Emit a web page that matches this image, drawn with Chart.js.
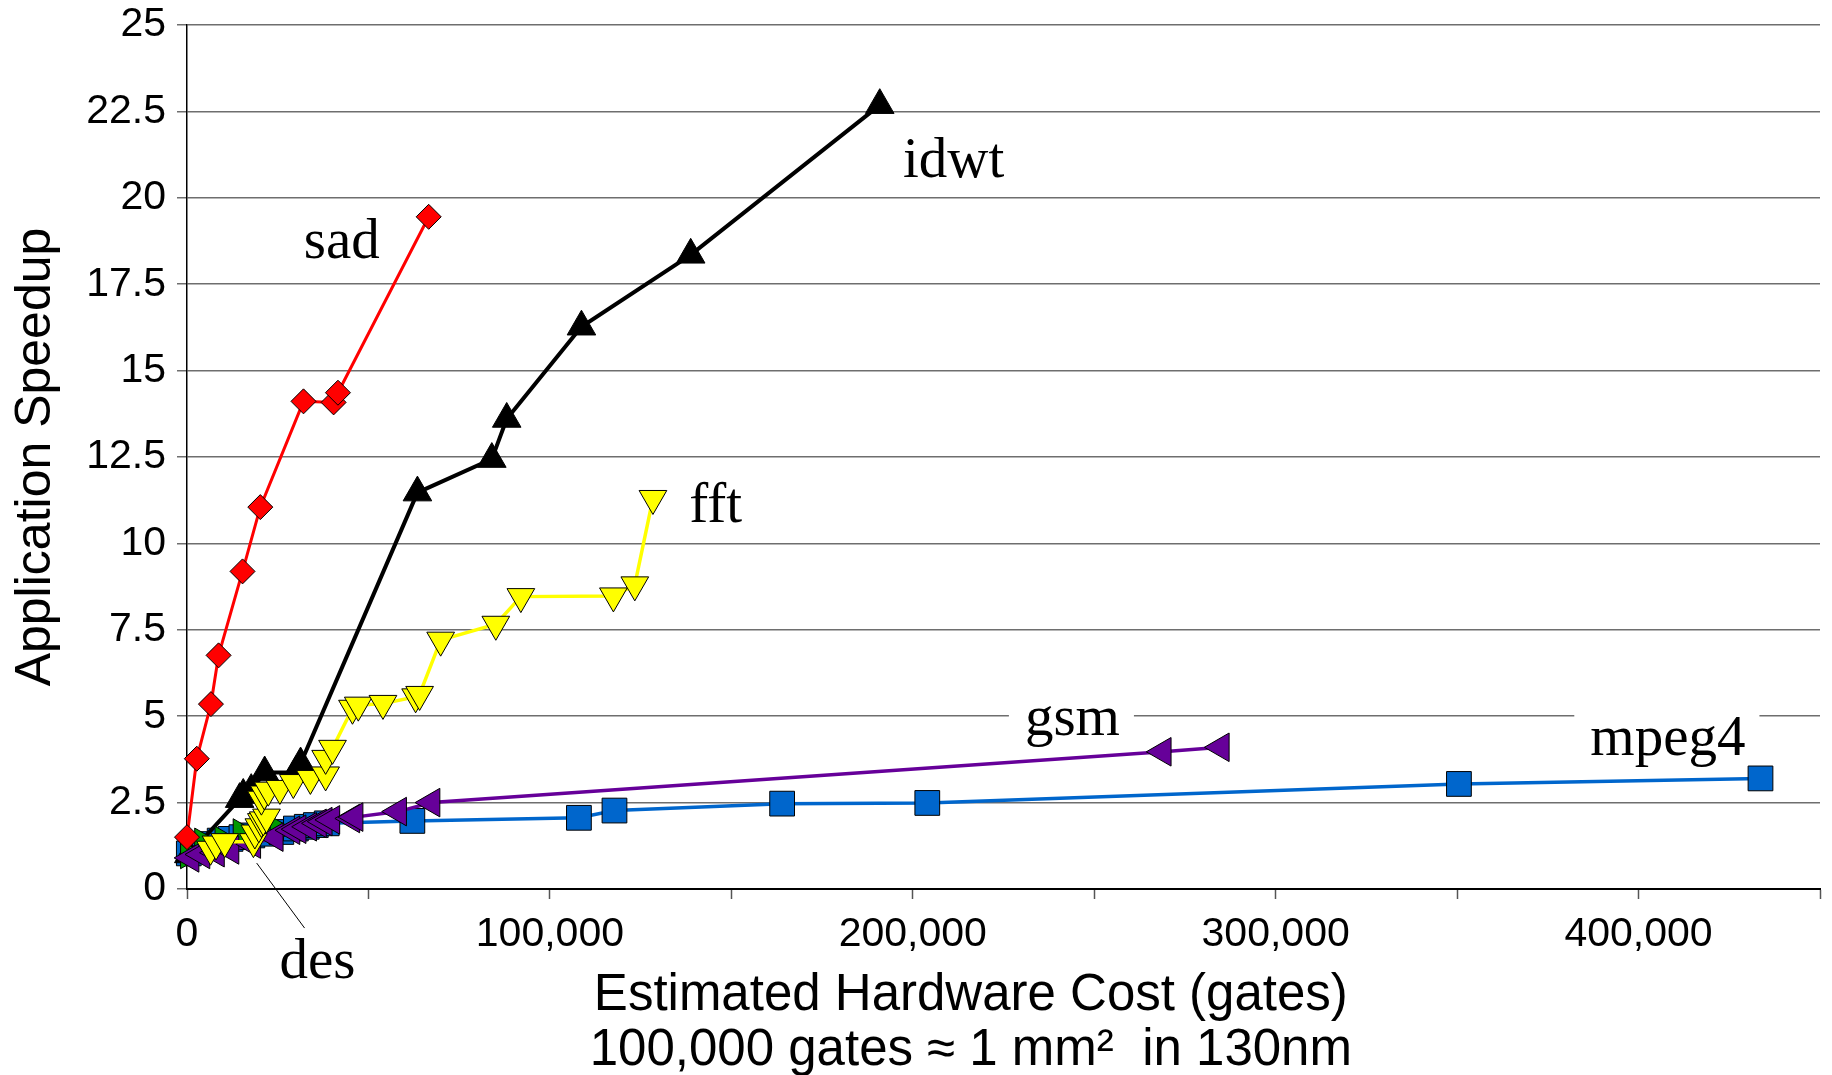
<!DOCTYPE html>
<html>
<head>
<meta charset="utf-8">
<script src="https://cdn.jsdelivr.net/npm/chart.js@4.4.0/dist/chart.umd.min.js"></script>
<style>
  html, body { margin: 0; padding: 0; background: #fff; }
  #wrap { width: 1832px; height: 1075px; }
</style>
</head>
<body>
<div id="wrap"><canvas id="chart" width="1832" height="1075"></canvas></div>
<script>
// series values (gates, speedup)
const sadX = [0, 2700, 6600, 8700, 15300, 20200, 32100, 40400, 41600, 66600];
const sadY = [1.5, 3.77, 5.35, 6.76, 9.19, 11.05, 14.11, 14.08, 14.36, 19.45];

const idwtX = [500, 14500, 15500, 17700, 21400, 30000, 31300, 63500, 84000, 88100, 108700, 138800, 190900];
const idwtY = [1.0, 2.6, 2.72, 2.86, 3.37, 3.37, 3.63, 11.47, 12.44, 13.6, 16.27, 18.35, 22.68];

const fftX = [6500, 8000, 10400, 18300, 18700, 19800, 20500, 21000, 21900, 20500, 21300, 22400, 25600, 29300,
              34000, 38200, 38200, 40100, 45600, 47200, 54000, 63000, 64100, 69900, 85100, 92000, 117500, 123400, 128400];
const fftY = [1.15, 1.3, 1.37, 1.37, 1.62, 1.8, 1.95, 2.0, 2.08, 2.6, 2.75, 2.86, 2.91, 3.08,
              3.2, 3.3, 3.78, 4.07, 5.23, 5.32, 5.37, 5.56, 5.63, 7.2, 7.66, 8.46, 8.48, 8.8, 11.3];

const gsmX = [1000, 4000, 8000, 12000, 18000, 24200, 28800, 30500, 33400, 36100, 37700, 39800, 45300, 46200, 58200, 67400, 268900, 284900];
const gsmY = [0.9, 1.0, 1.05, 1.13, 1.3, 1.5, 1.7, 1.73, 1.8, 1.9, 1.95, 2.0, 2.04, 2.08, 2.24, 2.5, 3.97, 4.1];

const mpegX = [500, 3000, 6000, 9000, 12000, 15000, 18000, 22000, 26000, 30000, 33000, 35500, 38500, 62100, 108000, 117800, 164000, 204000, 350500, 433600];
const mpegY = [1.03, 1.2, 1.3, 1.4, 1.45, 1.5, 1.55, 1.6, 1.65, 1.75, 1.8, 1.85, 1.9, 1.97, 2.06, 2.27, 2.47, 2.49, 3.04, 3.2];

const desX = [500, 4400, 10000, 15000, 25200];
const desY = [1.0, 1.35, 1.4, 1.62, 1.7];

// axis ticks
const xTicks = [0, 50000, 100000, 150000, 200000, 250000, 300000, 350000, 400000, 450000];
const xTickLabels = ["0", "", "100,000", "", "200,000", "", "300,000", "", "400,000", ""];
const yTicks = [0, 2.5, 5, 7.5, 10, 12.5, 15, 17.5, 20, 22.5, 25];
const yTickLabels = ["0", "2.5", "5", "7.5", "10", "12.5", "15", "17.5", "20", "22.5", "25"];

// series name labels, placed in data units
const nameText = ["sad", "idwt", "fft", "gsm", "mpeg4", "des"];
const nameAtX = [32200, 197300, 138400, 230900, 386700, 25500];
const nameAtY = [18.26, 20.6, 10.63, 4.46, 3.88, -2.58];

const xTitle = ["Estimated Hardware Cost (gates)", "100,000 gates \u2248 1 mm\u00b2  in 130nm"];

const toPts = (xs, ys) => xs.map((x, i) => ({ x, y: ys[i] }));

const SANS = "'Liberation Sans', Arial, sans-serif";
const SERIF = "'Liberation Serif', 'Times New Roman', serif";

function series(data, color, style, rot, radius, width) {
    return {
        data,
        showLine: true,
        borderColor: color,
        borderWidth: width ?? 3.5,
        pointStyle: style,
        rotation: rot,
        pointRadius: radius,
        pointBackgroundColor: color,
        pointBorderColor: "#000",
        pointBorderWidth: 1,
        clip: false,
    };
}

// dataset 0 is painted last (on top)
const datasets = [
    series(toPts(sadX, sadY), "#ff0000", "rectRot", 0, 12.5, 3),
    series(toPts(fftX, fftY), "#ffff00", "triangle", 180, 16),
    series(toPts(gsmX, gsmY), "#660099", "triangle", 270, 16.5),
    series(toPts(desX, desY), "#009900", "triangle", 90, 16.5),
    series(toPts(idwtX, idwtY), "#000000", "triangle", 0, 16.5, 4),
    series(toPts(mpegX, mpegY), "#0066cc", "rect", 0, 17.5),
];

const namesPlugin = {
    id: "names",
    // white boxes behind gsm / mpeg4 names (they break the gridline)
    beforeDatasetsDraw(chart) {
        const { ctx, scales } = chart;
        ctx.save();
        ctx.font = `57px ${SERIF}`;
        ctx.fillStyle = "#fff";
        [3, 4].forEach(i => {
            const px = scales.x.getPixelForValue(nameAtX[i]);
            const py = scales.y.getPixelForValue(nameAtY[i]);
            const w = ctx.measureText(nameText[i]).width;
            ctx.fillRect(px - 16, py - 44, w + 30, 54);
        });
        ctx.restore();
    },
    afterDatasetsDraw(chart) {
        const { ctx, scales } = chart;
        ctx.save();
        ctx.font = `57px ${SERIF}`;
        ctx.fillStyle = "#000";
        ctx.textBaseline = "alphabetic";
        nameText.forEach((t, i) => {
            ctx.fillText(t, scales.x.getPixelForValue(nameAtX[i]), scales.y.getPixelForValue(nameAtY[i]));
        });
        // leader line for des
        ctx.strokeStyle = "#000";
        ctx.lineWidth = 1;
        ctx.beginPath();
        ctx.moveTo(scales.x.getPixelForValue(19200), scales.y.getPixelForValue(0.75));
        ctx.lineTo(scales.x.getPixelForValue(32400), scales.y.getPixelForValue(-1.13));
        ctx.stroke();

        // two-line x title, centred a little left of the plot centre like the original
        ctx.font = `51px ${SANS}`;
        ctx.textAlign = "center";
        const cx = scales.x.getPixelForValue(216000);
        const base = scales.y.getPixelForValue(0) + 121;
        xTitle.forEach((t, i) => ctx.fillText(t, cx, base + i * 55));
        ctx.restore();
    },
};

new Chart(document.getElementById("chart"), {
    type: "scatter",
    data: { datasets },
    plugins: [namesPlugin],
    options: {
        responsive: false,
        animation: false,
        devicePixelRatio: 1,
        layout: { autoPadding: false, padding: { left: 0, top: 25, right: 12, bottom: 0 } },
        plugins: { legend: { display: false }, tooltip: { enabled: false } },
        scales: {
            x: {
                type: "linear",
                min: 0,
                max: 450000,
                afterBuildTicks: s => { s.ticks = xTicks.map(v => ({ value: v })); },
                afterFit: s => { s.height = 186; s.paddingLeft = 0; s.paddingRight = 0; },
                ticks: {
                    autoSkip: false,
                    maxRotation: 0,
                    padding: 11,
                    color: "#000",
                    font: { family: SANS, size: 41 },
                    callback: (v, i) => xTickLabels[i],
                },
                grid: { drawOnChartArea: false, tickLength: 10, tickColor: "#555", tickWidth: 1.5 },
                border: { color: "#000", width: 2 },
            },
            y: {
                type: "linear",
                min: 0,
                max: 25,
                afterBuildTicks: s => { s.ticks = yTicks.map(v => ({ value: v })); },
                afterFit: s => { s.width = 187; s.paddingTop = 0; s.paddingBottom = 0; },
                ticks: {
                    padding: 11,
                    color: "#000",
                    font: { family: SANS, size: 41 },
                    callback: (v, i) => yTickLabels[i],
                },
                grid: { color: "#6e6e6e", lineWidth: 1.5, tickLength: 10, tickColor: "#6e6e6e" },
                border: { color: "#000", width: 1.5 },
                title: {
                    display: true,
                    text: "Application Speedup",
                    color: "#000",
                    font: { family: SANS, size: 50, lineHeight: 1.2 },
                    padding: { top: 6, bottom: 0 },
                },
            },
        },
    },
});
</script>
</body>
</html>
